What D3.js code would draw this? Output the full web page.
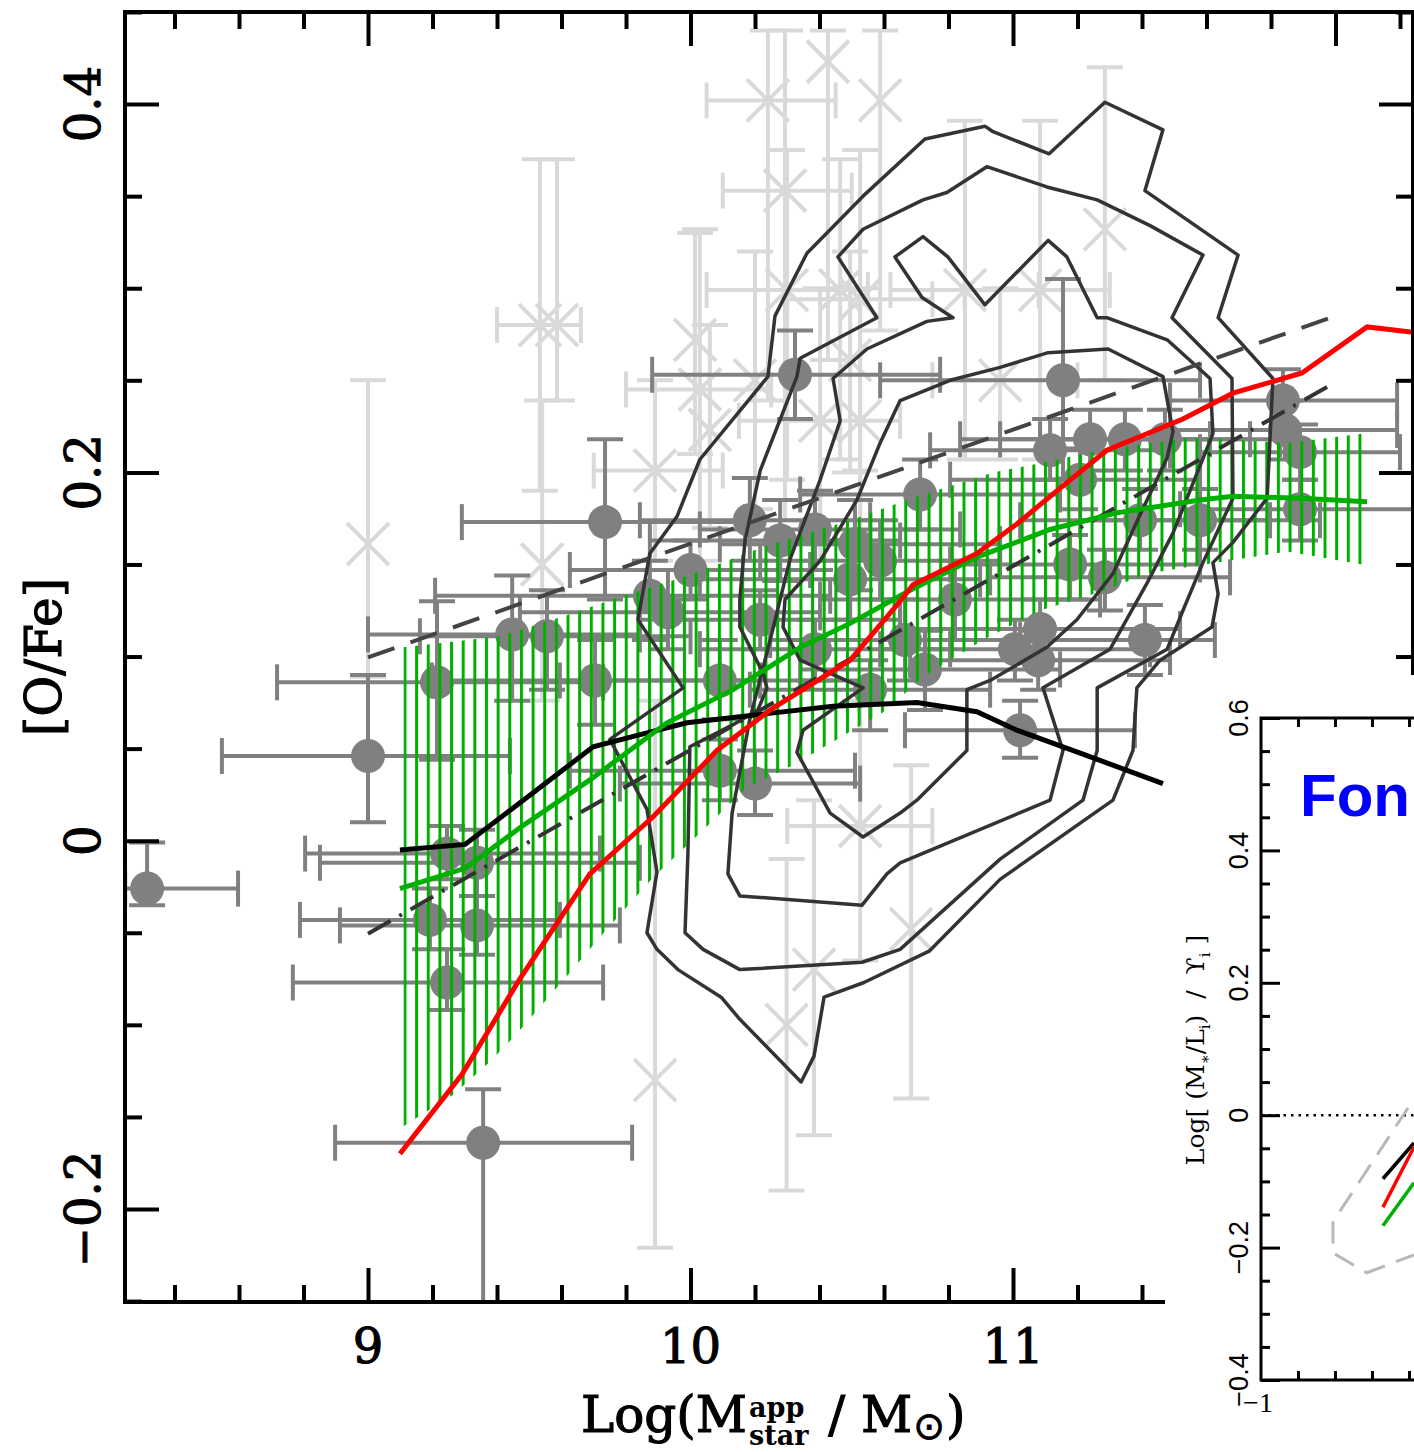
<!DOCTYPE html>
<html>
<head>
<meta charset="utf-8">
<script src="https://cdn.jsdelivr.net/npm/d3@7"></script>
<style>
html,body{margin:0;padding:0;background:#fff;overflow:hidden}
svg{display:block}
</style>
</head>
<body>
<svg id="fig" width="1414" height="1452"></svg>
<script>
// ---------------- axis ranges and ticks ----------------
const xDomain = [8.2465, 12.2403];
const yDomain = [-0.2505, 0.45];
const xMajor = [9, 10, 11, 12];
const xTickLabels = ["9", "10", "11", "12"];
const yMajor = [-0.2, 0, 0.2, 0.4];
const yTickLabels = ["\u22120.2", "0", "0.2", "0.4"];

// ---------------- dark grey galaxies: [logM, OFe, logM lo, logM hi, OFe lo, OFe hi]
const galaxies = [
 [8.315,-0.026,8.247,8.597,-0.035,-0.001],
 [9.000,0.046,8.547,9.440,0.010,0.090],
 [9.214,0.086,8.718,9.729,0.044,0.130],
 [9.447,0.112,9.000,9.843,0.076,0.144],
 [9.555,0.111,9.161,10.000,0.082,0.136],
 [9.704,0.087,9.198,10.216,0.063,0.109],
 [9.735,0.173,9.291,10.169,0.131,0.218],
 [10.324,0.253,9.881,10.774,0.229,0.277],
 [11.155,0.250,10.588,11.580,0.196,0.305],
 [9.874,0.133,9.208,10.433,0.109,0.152],
 [9.930,0.124,9.471,10.402,0.104,0.147],
 [10.091,0.087,9.595,10.557,0.066,0.109],
 [10.184,0.174,9.843,10.557,0.152,0.197],
 [10.278,0.163,9.874,10.650,0.141,0.185],
 [10.386,0.169,10.029,10.836,0.147,0.190],
 [10.510,0.161,10.091,10.960,0.136,0.185],
 [10.495,0.142,10.029,10.898,0.120,0.163],
 [10.588,0.152,10.216,10.960,0.131,0.174],
 [10.712,0.188,10.340,11.146,0.169,0.207],
 [10.665,0.109,10.247,11.084,0.087,0.131],
 [10.727,0.093,10.340,11.146,0.071,0.114],
 [10.820,0.131,10.402,11.270,0.109,0.152],
 [11.115,0.212,10.743,11.487,0.196,0.229],
 [11.239,0.218,10.836,11.611,0.201,0.234],
 [11.347,0.218,10.960,11.735,0.201,0.234],
 [11.471,0.218,11.084,11.828,0.201,0.234],
 [11.208,0.196,10.805,11.580,0.180,0.213],
 [11.084,0.115,10.650,11.518,0.098,0.131],
 [11.006,0.104,10.588,11.425,0.087,0.120],
 [11.078,0.098,10.681,11.487,0.082,0.114],
 [11.409,0.109,11.022,11.626,0.090,0.128],
 [11.022,0.060,10.665,11.378,0.045,0.076],
 [10.091,0.038,9.626,10.510,0.022,0.055],
 [10.200,0.031,9.781,10.526,0.014,0.049],
 [9.245,-0.007,8.805,9.719,-0.021,0.008],
 [9.338,-0.012,8.851,9.843,-0.030,0.006],
 [9.192,-0.043,8.789,9.595,-0.059,-0.026],
 [9.338,-0.046,8.913,9.781,-0.062,-0.030],
 [9.245,-0.077,8.767,9.729,-0.092,-0.059],
 [9.357,-0.164,8.898,9.819,-0.260,-0.135],
 [11.837,0.239,11.487,12.191,0.223,0.256],
 [11.843,0.223,11.487,12.191,0.207,0.239],
 [11.890,0.211,11.580,12.200,0.196,0.226],
 [11.890,0.180,11.518,12.300,0.163,0.196],
 [11.580,0.174,11.208,11.952,0.158,0.191],
 [11.394,0.174,11.022,11.797,0.158,0.191],
 [11.177,0.150,10.805,11.580,0.131,0.166],
 [11.285,0.143,10.929,11.673,0.125,0.158],
 [10.000,0.147,9.626,10.371,0.131,0.163],
 [10.216,0.120,9.843,10.650,0.104,0.136],
 [10.386,0.104,10.029,10.805,0.087,0.120],
 [10.557,0.082,10.184,10.929,0.060,0.098]
];

// ---------------- light grey literature points (crosses): [logM, OFe, logM lo, logM hi, OFe lo, OFe hi]
const literature = [
 [9.000,0.161,9.000,9.000,0.089,0.250],
 [9.533,0.280,9.400,9.660,0.190,0.370],
 [9.586,0.280,9.586,9.586,0.239,0.370],
 [9.540,0.150,9.540,9.540,0.076,0.239],
 [9.890,-0.130,9.890,9.890,-0.221,0.076],
 [10.298,-0.100,10.298,10.298,-0.190,-0.010],
 [10.383,-0.070,10.383,10.383,-0.160,0.022],
 [10.526,0.008,10.300,10.750,-0.065,0.076],
 [10.684,-0.048,10.684,10.684,-0.140,0.041],
 [10.240,0.402,10.050,10.450,0.239,0.440],
 [10.293,0.353,10.100,10.500,0.174,0.440],
 [10.426,0.423,10.426,10.426,0.261,0.440],
 [10.588,0.402,10.588,10.588,0.277,0.440],
 [10.299,0.299,10.050,10.550,0.196,0.375],
 [10.526,0.294,10.300,10.750,0.201,0.375],
 [10.464,0.299,10.464,10.464,0.207,0.370],
 [11.285,0.332,11.285,11.285,0.250,0.420],
 [11.084,0.299,10.850,11.300,0.207,0.391],
 [10.851,0.299,10.620,11.080,0.207,0.391],
 [10.029,0.245,9.800,10.250,0.152,0.332],
 [10.200,0.250,10.200,10.200,0.180,0.320],
 [10.402,0.228,10.150,10.650,0.152,0.300],
 [10.526,0.228,10.526,10.526,0.160,0.300],
 [9.890,0.201,9.700,10.100,0.152,0.250],
 [10.014,0.272,10.014,10.014,0.210,0.330],
 [10.960,0.250,10.750,11.200,0.207,0.300],
 [10.060,0.223,10.060,10.060,0.170,0.280],
 [10.495,0.261,10.495,10.495,0.200,0.320]
];

// ---------------- SDSS density contours [logM, OFe]
const contour1 = [[10.240,0.252],[10.262,0.285],[10.361,0.319],[10.535,0.350],[10.727,0.381],[10.913,0.388],[10.938,0.385],[11.112,0.373],[11.285,0.401],[11.465,0.386],[11.409,0.353],[11.698,0.318],[11.636,0.284],[11.806,0.251],[11.788,0.186],[11.682,0.162],[11.620,0.151],[11.636,0.134],[11.617,0.116],[11.456,0.098],[11.384,0.083],[11.372,0.049],[11.310,0.022],[10.960,-0.021],[10.740,-0.060],[10.538,-0.077],[10.414,-0.085],[10.383,-0.117],[10.343,-0.131],[10.153,-0.097],[10.095,-0.085],[9.961,-0.070],[9.896,-0.059],[9.865,-0.050],[9.896,-0.017],[9.865,0.017],[9.750,0.055],[9.977,0.083],[9.837,0.120],[9.874,0.156],[9.958,0.176],[10.029,0.207]];
const contour2 = [[10.330,0.252],[10.340,0.262],[10.578,0.284],[10.457,0.317],[10.535,0.332],[10.721,0.348],[10.795,0.352],[10.919,0.366],[11.105,0.355],[11.261,0.348],[11.425,0.334],[11.589,0.318],[11.493,0.284],[11.679,0.251],[11.682,0.186],[11.589,0.151],[11.527,0.125],[11.478,0.104],[11.261,0.083],[11.261,0.049],[11.217,0.022],[10.960,-0.010],[10.650,-0.059],[10.532,-0.066],[10.153,-0.070],[10.039,-0.059],[9.983,-0.050],[9.992,-0.007],[9.998,0.051],[10.132,0.063],[10.209,0.071],[10.237,0.083],[10.225,0.091],[10.153,0.116],[10.153,0.131],[10.169,0.163],[10.216,0.201]];
const contour3 = [[10.442,0.251],[10.464,0.228],[10.402,0.196],[10.309,0.153],[10.247,0.109],[10.184,0.066],[10.129,0.015],[10.116,-0.018],[10.153,-0.030],[10.532,-0.035],[10.609,-0.018],[10.650,-0.012],[11.115,0.022],[11.155,0.049],[11.093,0.083],[11.301,0.104],[11.416,0.140],[11.496,0.167],[11.620,0.221],[11.611,0.251],[11.478,0.272],[11.291,0.284],[11.261,0.284],[11.167,0.317],[11.109,0.326],[10.913,0.291],[10.798,0.317],[10.721,0.328],[10.634,0.317],[10.718,0.295],[10.814,0.284],[10.733,0.282],[10.547,0.267]];
const contour4 = [[10.650,0.239],[10.805,0.250],[10.960,0.257],[11.109,0.265],[11.295,0.267],[11.465,0.252],[11.496,0.222],[11.478,0.208],[11.394,0.177],[11.310,0.145],[11.198,0.120],[11.105,0.105],[10.929,0.087],[10.857,0.082],[10.857,0.049],[10.702,0.022],[10.650,0.015],[10.535,0.002],[10.433,0.015],[10.330,0.048],[10.349,0.060],[10.535,0.083],[10.340,0.098],[10.287,0.116],[10.293,0.131],[10.402,0.152],[10.516,0.185],[10.588,0.216]];

// ---------------- green model band
const bandUpperLogM = [9.110,9.409,9.626,9.775,9.994,10.216,10.495,10.687,10.938,11.084,11.270,11.555,11.850,12.082];
const bandUpperOFe  = [0.105,0.111,0.123,0.132,0.144,0.159,0.174,0.186,0.200,0.205,0.212,0.219,0.216,0.221];
const bandLowerLogM = [9.110,9.264,9.372,9.450,9.595,9.741,9.884,10.029,10.175,10.318,10.464,10.609,10.721,10.907,11.084,11.270,11.416,11.518,11.850,12.082];
const bandLowerOFe  = [-0.155,-0.138,-0.121,-0.107,-0.078,-0.048,-0.020,0.004,0.029,0.041,0.056,0.071,0.089,0.109,0.125,0.135,0.145,0.148,0.157,0.150];

// ---------------- model curves
const greenLogM = [9.099,9.301,9.471,9.688,9.927,10.132,10.340,10.495,10.681,10.888,11.115,11.322,11.580,11.682,11.890,12.098];
const greenOFe  = [-0.026,-0.015,0.007,0.033,0.064,0.082,0.105,0.118,0.136,0.154,0.169,0.178,0.185,0.187,0.186,0.184];
const redLogM = [9.099,9.291,9.471,9.688,9.884,10.082,10.256,10.495,10.650,10.690,10.888,11.012,11.136,11.291,11.527,11.682,11.896,12.098,12.243];
const redOFe  = [-0.170,-0.127,-0.075,-0.018,0.013,0.049,0.072,0.098,0.130,0.139,0.156,0.172,0.190,0.212,0.229,0.243,0.254,0.279,0.276];
const blackLogM = [9.099,9.301,9.512,9.698,9.853,9.989,10.237,10.442,10.702,10.888,11.012,11.217,11.465];
const blackOFe  = [-0.005,-0.002,0.026,0.051,0.058,0.064,0.069,0.073,0.075,0.070,0.060,0.047,0.031];
const dashedLogM = [9.0, 12.0];
const dashedOFe  = [0.0995, 0.285];
const dashDotLogM = [9.0, 12.0];
const dashDotOFe  = [-0.0505, 0.249];

// ---------------- inset panel
const insetXDomain = [-1, 0];
const insetYDomain = [-0.4, 0.6];
const insetYMajor = [-0.4, -0.2, 0, 0.2, 0.4, 0.6];
const insetYLabels = ["\u22120.4", "\u22120.2", "0", "0.2", "0.4", "0.6"];
const insetXMajor = [-1];
const insetXLabels = ["\u22121"];
const insetTitle = "Fon";
const insetZeroX = [-1, 0];
const insetContourX = [-0.205,-0.611,-0.611,-0.427,-0.173];
const insetContourY = [0.011,-0.161,-0.208,-0.238,-0.211];
const insetBlackX = [-0.341,-0.173], insetBlackY = [-0.096,-0.042];
const insetRedX   = [-0.341,-0.173], insetRedY   = [-0.139,-0.048];
const insetGreenX = [-0.341,-0.173], insetGreenY = [-0.167,-0.102];

// =====================================================================
const svg = d3.select("#fig");
const x = d3.scaleLinear().domain(xDomain).range([125, 1413]);
const y = d3.scaleLinear().domain(yDomain).range([1302, 12]);
const SERIF = "'DejaVu Serif', serif";

const defs = svg.append("defs");
defs.append("clipPath").attr("id", "plotClip")
  .append("rect").attr("x", 125).attr("y", 12).attr("width", 1288).attr("height", 1290);
const pat = defs.append("pattern").attr("id", "hatch").attr("patternUnits", "userSpaceOnUse")
  .attr("x", x(bandUpperLogM[0])).attr("y", 0).attr("width", 11.646).attr("height", 20);
pat.append("rect").attr("x", 0).attr("y", 0).attr("width", 3).attr("height", 20).attr("fill", "#00b000");

const plot = svg.append("g").attr("clip-path", "url(#plotClip)");

// light grey crosses
const lg = plot.append("g").attr("stroke", "#d9d9d9").attr("stroke-width", 4).attr("fill", "none");
literature.forEach(d => {
  const cx = x(d[0]), cy = y(d[1]);
  if (d[3] > d[2]) {
    lg.append("line").attr("x1", x(d[2])).attr("x2", x(d[3])).attr("y1", cy).attr("y2", cy);
    [d[2], d[3]].forEach(v => lg.append("line").attr("x1", x(v)).attr("x2", x(v)).attr("y1", cy - 18).attr("y2", cy + 18));
  }
  lg.append("line").attr("x1", cx).attr("x2", cx).attr("y1", y(d[4])).attr("y2", y(d[5]));
  [d[4], d[5]].forEach(v => lg.append("line").attr("x1", cx - 18).attr("x2", cx + 18).attr("y1", y(v)).attr("y2", y(v)));
  lg.append("line").attr("x1", cx - 21).attr("x2", cx + 21).attr("y1", cy - 21).attr("y2", cy + 21);
  lg.append("line").attr("x1", cx - 21).attr("x2", cx + 21).attr("y1", cy + 21).attr("y2", cy - 21);
});

// dark grey galaxies
const dg = plot.append("g").attr("stroke", "#808080").attr("stroke-width", 4).attr("fill", "#808080");
galaxies.forEach(d => {
  const cx = x(d[0]), cy = y(d[1]);
  dg.append("line").attr("x1", x(d[2])).attr("x2", x(d[3])).attr("y1", cy).attr("y2", cy);
  [d[2], d[3]].forEach(v => dg.append("line").attr("x1", x(v)).attr("x2", x(v)).attr("y1", cy - 18).attr("y2", cy + 18));
  dg.append("line").attr("x1", cx).attr("x2", cx).attr("y1", y(d[4])).attr("y2", y(d[5]));
  [d[4], d[5]].forEach(v => dg.append("line").attr("x1", cx - 18).attr("x2", cx + 18).attr("y1", y(v)).attr("y2", y(v)));
  dg.append("circle").attr("cx", cx).attr("cy", cy).attr("r", 17).attr("stroke", "none");
});

// green hatched band
const bandUpper = bandUpperLogM.map((m, i) => [m, bandUpperOFe[i]]);
const bandLower = bandLowerLogM.map((m, i) => [m, bandLowerOFe[i]]);
const bandPoly = bandUpper.concat(bandLower.slice().reverse());
plot.append("path").attr("d", d3.line().x(d => x(d[0])).y(d => y(d[1])).curve(d3.curveLinearClosed)(bandPoly))
  .attr("fill", "url(#hatch)").attr("stroke", "none");

// contours
const cl = d3.line().x(d => x(d[0])).y(d => y(d[1])).curve(d3.curveLinearClosed);
[contour1, contour2, contour3, contour4].forEach(c => {
  plot.append("path").attr("d", cl(c)).attr("fill", "none").attr("stroke", "#333333").attr("stroke-width", 3.5).attr("stroke-linejoin", "round");
});

const ln = d3.line().x(d => x(d[0])).y(d => y(d[1]));
const zip = (a, b) => a.map((v, i) => [v, b[i]]);
plot.append("path").attr("d", ln(zip(dashedLogM, dashedOFe))).attr("fill", "none")
  .attr("stroke", "#444").attr("stroke-width", 4).attr("stroke-dasharray", "28 17");
plot.append("path").attr("d", ln(zip(dashDotLogM, dashDotOFe))).attr("fill", "none")
  .attr("stroke", "#333").attr("stroke-width", 4).attr("stroke-dasharray", "26 10 3 10");
plot.append("path").attr("d", ln(zip(blackLogM, blackOFe))).attr("fill", "none")
  .attr("stroke", "#000").attr("stroke-width", 5);
plot.append("path").attr("d", ln(zip(greenLogM, greenOFe))).attr("fill", "none")
  .attr("stroke", "#00b000").attr("stroke-width", 5);
plot.append("path").attr("d", ln(zip(redLogM, redOFe))).attr("fill", "none")
  .attr("stroke", "#ff0000").attr("stroke-width", 5);

// ---------------- axes (ticks inside)
const xMinor = d3.range(8.4, 12.21, 0.2).map(v => +v.toFixed(1)).filter(v => xMajor.indexOf(v) < 0);
const yMinor = d3.range(-0.25, 0.451, 0.05).map(v => +v.toFixed(2)).filter(v => yMajor.indexOf(v) < 0);
function tickAxis(axisFn, scale, vals, size, transform) {
  const g = svg.append("g").attr("transform", transform)
    .call(axisFn(scale).tickValues(vals).tickSize(-size).tickFormat(""));
  g.select(".domain").remove();
  g.selectAll("line").attr("stroke", "#000").attr("stroke-width", 4);
}
tickAxis(d3.axisBottom, x, xMinor, 17, "translate(0,1302)");
tickAxis(d3.axisBottom, x, xMajor, 34, "translate(0,1302)");
tickAxis(d3.axisTop, x, xMinor, 17, "translate(0,12)");
tickAxis(d3.axisTop, x, xMajor, 34, "translate(0,12)");
tickAxis(d3.axisLeft, y, yMinor, 17, "translate(125,0)");
tickAxis(d3.axisLeft, y, yMajor, 34, "translate(125,0)");
tickAxis(d3.axisRight, y, yMinor, 17, "translate(1413,0)");
tickAxis(d3.axisRight, y, yMajor, 34, "translate(1413,0)");
svg.append("rect").attr("x", 125).attr("y", 12).attr("width", 1288).attr("height", 1290)
  .attr("fill", "none").attr("stroke", "#000").attr("stroke-width", 4);

// tick labels (slightly heavier strokes like the original plotting font)
function heavy(sel) { return sel.attr("stroke", "#000").attr("stroke-width", 1.1).attr("fill", "#000"); }
xMajor.forEach((v, i) => {
  heavy(svg.append("text").attr("x", x(v)).attr("y", 1363).attr("text-anchor", "middle")
    .attr("font-family", SERIF).attr("font-size", 48).text(xTickLabels[i]));
});
yMajor.forEach((v, i) => {
  heavy(svg.append("text").attr("transform", `translate(100,${y(v)}) rotate(-90)`).attr("text-anchor", "middle")
    .attr("font-family", SERIF).attr("font-size", 48).text(yTickLabels[i]));
});

// y title
heavy(svg.append("text").attr("transform", "translate(61,657) rotate(-90)").attr("text-anchor", "middle")
  .attr("font-family", SERIF).attr("font-size", 50).text("[O/Fe]"));

// x title: Log(M^app_star / M_sun)
(function () {
  const bx = 581, by = 1432;
  const t1 = heavy(svg.append("text").attr("x", bx).attr("y", by).attr("font-family", SERIF).attr("font-size", 50).text("Log(M"));
  const w1 = t1.node().getComputedTextLength();
  const sx = bx + w1 + 2;
  const ta = svg.append("text").attr("x", sx).attr("y", by - 15).attr("font-family", SERIF).attr("font-weight", "bold").attr("font-size", 27).text("app");
  const ts = svg.append("text").attr("x", sx).attr("y", by + 13).attr("font-family", SERIF).attr("font-weight", "bold").attr("font-size", 27).text("star");
  const w2 = Math.max(ta.node().getComputedTextLength(), ts.node().getComputedTextLength());
  const t3 = heavy(svg.append("text").attr("x", sx + w2 + 4).attr("y", by).attr("font-family", SERIF).attr("font-size", 50).attr("xml:space", "preserve").text(" / M"));
  const w3 = t3.node().getComputedTextLength();
  const ox = sx + w2 + 4 + w3 + 1;
  const to = svg.append("text").attr("x", ox).attr("y", by + 7).attr("font-family", "'DejaVu Sans', sans-serif")
    .attr("font-size", 38).attr("stroke", "#000").attr("stroke-width", 0.8).text("\u2299");
  const w4 = to.node().getComputedTextLength();
  heavy(svg.append("text").attr("x", ox + w4 + 1).attr("y", by).attr("font-family", SERIF).attr("font-size", 50).text(")"));
})();

// ---------------- inset
const ix = d3.scaleLinear().domain(insetXDomain).range([1261, 1446]);
const iy = d3.scaleLinear().domain(insetYDomain).range([1380, 718]);
defs.append("clipPath").attr("id", "insetClip")
  .append("rect").attr("x", 1165).attr("y", 675).attr("width", 260).attr("height", 800);
const ins = svg.append("g").attr("clip-path", "url(#insetClip)");
ins.append("rect").attr("x", 1165).attr("y", 675).attr("width", 260).attr("height", 800).attr("fill", "#fff");

ins.append("path").attr("d", d3.line()(insetZeroX.map(v => [ix(v), iy(0)])))
  .attr("stroke", "#000").attr("stroke-width", 2.5).attr("stroke-dasharray", "2.5 5").attr("fill", "none");
ins.append("path").attr("d", d3.line()(insetContourX.map((v, i) => [ix(v), iy(insetContourY[i])])))
  .attr("stroke", "#b8b8b8").attr("stroke-width", 3).attr("stroke-dasharray", "22 12").attr("fill", "none");
[[insetBlackX, insetBlackY, "#000"], [insetRedX, insetRedY, "#ff0000"], [insetGreenX, insetGreenY, "#00b000"]].forEach(s => {
  ins.append("path").attr("d", d3.line()(s[0].map((v, i) => [ix(v), iy(s[1][i])])))
    .attr("stroke", s[2]).attr("stroke-width", 3.5).attr("fill", "none");
});

const iyMinor = d3.range(-0.4, 0.601, 0.05).map(v => +v.toFixed(2)).filter(v => insetYMajor.indexOf(v) < 0);
const ixMinor = d3.range(-0.8, 0.01, 0.2).map(v => +v.toFixed(1));
function insetAxis(axisFn, scale, vals, size, transform) {
  const g = ins.append("g").attr("transform", transform)
    .call(axisFn(scale).tickValues(vals).tickSize(-size).tickFormat(""));
  g.select(".domain").remove();
  g.selectAll("line").attr("stroke", "#000").attr("stroke-width", 3);
}
insetAxis(d3.axisLeft, iy, iyMinor, 9, "translate(1261,0)");
insetAxis(d3.axisLeft, iy, insetYMajor, 19, "translate(1261,0)");
insetAxis(d3.axisBottom, ix, ixMinor, 9, "translate(0,1380)");
insetAxis(d3.axisTop, ix, ixMinor, 9, "translate(0,718)");
ins.append("path").attr("d", `M1480,718H1261V1380H1480`).attr("fill", "none").attr("stroke", "#000").attr("stroke-width", 3);

insetYMajor.forEach((v, i) => {
  ins.append("text").attr("transform", `translate(1248,${iy(v)}) rotate(-90)`).attr("text-anchor", "middle")
    .attr("font-family", "'Liberation Sans', sans-serif").attr("font-size", 27).text(insetYLabels[i]);
});
insetXMajor.forEach((v, i) => {
  ins.append("text").attr("x", ix(v) - 3).attr("y", 1412).attr("text-anchor", "middle")
    .attr("font-family", "'Liberation Serif', serif").attr("font-size", 28).text(insetXLabels[i]);
});
// inset y title
const iyt = ins.append("text").attr("transform", "translate(1204,1050) rotate(-90)").attr("text-anchor", "middle")
  .attr("font-family", SERIF).attr("font-size", 25).attr("xml:space", "preserve");
iyt.append("tspan").text("Log[ (M");
iyt.append("tspan").attr("font-size", 15).attr("dy", 6).text("\u2217");
iyt.append("tspan").attr("dy", -6).text("/L");
iyt.append("tspan").attr("font-size", 15).attr("dy", 6).text("i");
iyt.append("tspan").attr("dy", -6).text(")  /  \u03D2");
iyt.append("tspan").attr("font-size", 15).attr("dy", 6).text("i");
iyt.append("tspan").attr("dy", -6).text(" ]");

ins.append("text").attr("x", 1300).attr("y", 816).attr("font-family", "'Liberation Sans', Arial, sans-serif")
  .attr("font-weight", "bold").attr("font-size", 60).attr("fill", "#0000ff").text(insetTitle);
</script>
</body>
</html>
